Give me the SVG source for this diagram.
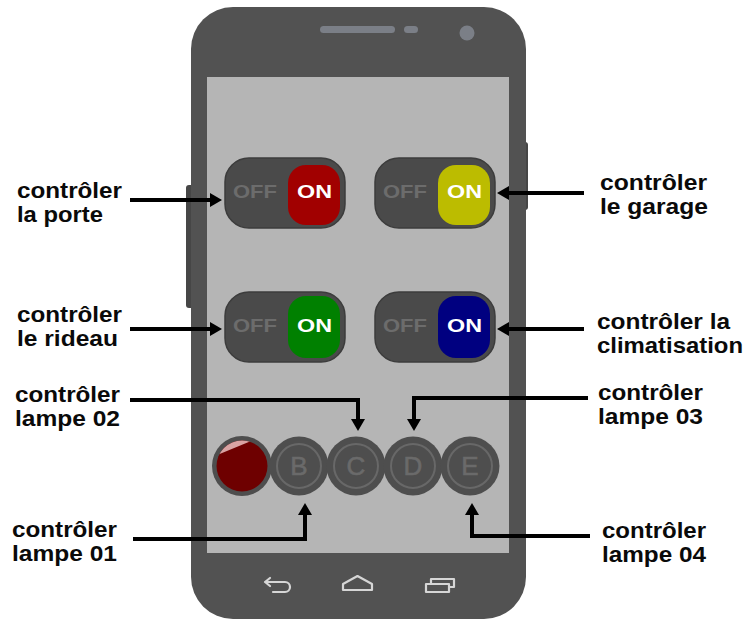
<svg xmlns="http://www.w3.org/2000/svg" width="745" height="619" viewBox="0 0 745 619">
  <style>
    .lbl { font-family: "Liberation Sans", Arial, sans-serif; font-weight: bold; font-size: 22px; fill: #0a0a0a; }
    .sw-body { fill: #4a4a4a; stroke: #3c3c3c; stroke-width: 1.5; }
    .sw-off { font-family: "Liberation Sans", Arial, sans-serif; font-weight: bold; font-size: 18px; fill: #6c6c6c; }
    .sw-on { font-family: "Liberation Sans", Arial, sans-serif; font-weight: bold; font-size: 19px; fill: #ffffff; }
    .lamp { fill: #4e4e4e; }
    .ring { fill: none; stroke: #686868; stroke-width: 2; }
    .letter { font-family: "Liberation Sans", Arial, sans-serif; font-size: 26px; fill: #6a6a6a; text-anchor: middle; stroke: #6a6a6a; stroke-width: 0.6; }
    .nav { fill: none; stroke: #d6d6d6; stroke-width: 2.2; stroke-linecap: round; stroke-linejoin: round; }
    .conn { fill: none; stroke: #000; stroke-width: 4; marker-end: url(#arrow); }
  </style>
  <defs>
    <marker id="arrow" viewBox="0 0 12 14" refX="1" refY="7" markerWidth="12" markerHeight="14" markerUnits="userSpaceOnUse" orient="auto">
      <path d="M0,0 L12,7 L0,14 Z" fill="#000"/>
    </marker>
    <clipPath id="redClip"><circle cx="242" cy="466" r="25.5"/></clipPath>
  </defs>

  <rect width="745" height="619" fill="#ffffff"/>

  <!-- handset -->
  <g id="phone">
    <rect x="186" y="185" width="8" height="123" rx="3" fill="#464646"/>
    <rect x="521" y="142" width="7" height="68" rx="3" fill="#464646"/>
    <rect x="191" y="7" width="335" height="612" rx="42" fill="#525252"/>
    <rect x="207" y="77" width="302" height="476" fill="#b5b5b5"/>
    <rect x="320" y="26" width="75" height="7" rx="3.5" fill="#7b7f87"/>
    <rect x="404" y="26" width="14" height="7" rx="3.5" fill="#7b7f87"/>
    <circle cx="467" cy="33" r="7.5" fill="#7b7f87"/>
    <!-- navigation keys -->
    <path class="nav" d="M285 582 H265 M270 578 L265 582 L270 586 M285 582 A5 5 0 0 1 285 592 H273"/>
    <path class="nav" d="M343 590 V584 L357.5 576 L372 584 V590 Z"/>
    <path class="nav" d="M426 584 H449 V592 H426 Z M431 584 V579 H454 V587 H449"/>
  </g>

  <!-- switches -->
  <g id="switch-porte">
    <rect class="sw-body" x="225" y="158" width="120" height="70" rx="24"/>
    <text class="sw-off" x="233" y="198" textLength="44" lengthAdjust="spacingAndGlyphs">OFF</text>
    <rect x="288" y="165" width="52" height="60" rx="18" fill="#a10000"/>
    <text class="sw-on" x="297" y="198" textLength="35" lengthAdjust="spacingAndGlyphs">ON</text>
  </g>
  <g id="switch-garage">
    <rect class="sw-body" x="375" y="158" width="120" height="70" rx="24"/>
    <text class="sw-off" x="383" y="198" textLength="44" lengthAdjust="spacingAndGlyphs">OFF</text>
    <rect x="438" y="165" width="52" height="60" rx="18" fill="#bcbc00"/>
    <text class="sw-on" x="447" y="198" textLength="35" lengthAdjust="spacingAndGlyphs">ON</text>
  </g>
  <g id="switch-rideau">
    <rect class="sw-body" x="225" y="292" width="120" height="70" rx="24"/>
    <text class="sw-off" x="233" y="332" textLength="44" lengthAdjust="spacingAndGlyphs">OFF</text>
    <rect x="288" y="296" width="52" height="62" rx="18" fill="#008000"/>
    <text class="sw-on" x="297" y="332" textLength="35" lengthAdjust="spacingAndGlyphs">ON</text>
  </g>
  <g id="switch-climatisation">
    <rect class="sw-body" x="375" y="292" width="120" height="70" rx="24"/>
    <text class="sw-off" x="383" y="332" textLength="44" lengthAdjust="spacingAndGlyphs">OFF</text>
    <rect x="438" y="296" width="52" height="62" rx="18" fill="#000080"/>
    <text class="sw-on" x="447" y="332" textLength="35" lengthAdjust="spacingAndGlyphs">ON</text>
  </g>

  <!-- lamp buttons -->
  <g id="lamp-a">
    <circle class="lamp" cx="242" cy="466" r="30" fill="#555"/>
    <circle cx="242" cy="466" r="25.5" fill="#6e0000"/>
    <path d="M210 458 L256 439 L256 430 L210 430 Z" fill="#d9a3a3" clip-path="url(#redClip)"/>
  </g>
  <g id="lamp-b">
    <circle class="lamp" cx="299" cy="466" r="29.5"/>
    <circle class="ring" cx="299" cy="466" r="22"/>
    <text class="letter" x="299" y="475">B</text>
  </g>
  <g id="lamp-c">
    <circle class="lamp" cx="356" cy="466" r="29.5"/>
    <circle class="ring" cx="356" cy="466" r="22"/>
    <text class="letter" x="356" y="475">C</text>
  </g>
  <g id="lamp-d">
    <circle class="lamp" cx="413" cy="466" r="29.5"/>
    <circle class="ring" cx="413" cy="466" r="22"/>
    <text class="letter" x="413" y="475">D</text>
  </g>
  <g id="lamp-e">
    <circle class="lamp" cx="470" cy="466" r="29.5"/>
    <circle class="ring" cx="470" cy="466" r="22"/>
    <text class="letter" x="470" y="475">E</text>
  </g>

  <!-- captions -->
  <g id="label-porte">
    <text class="lbl" x="17" y="198" textLength="105" lengthAdjust="spacingAndGlyphs">contrôler</text>
    <text class="lbl" x="17" y="222" textLength="86" lengthAdjust="spacingAndGlyphs">la porte</text>
  </g>
  <g id="label-rideau">
    <text class="lbl" x="17" y="322" textLength="105" lengthAdjust="spacingAndGlyphs">contrôler</text>
    <text class="lbl" x="17" y="346" textLength="101" lengthAdjust="spacingAndGlyphs">le rideau</text>
  </g>
  <g id="label-garage">
    <text class="lbl" x="600" y="190" textLength="107" lengthAdjust="spacingAndGlyphs">contrôler</text>
    <text class="lbl" x="600" y="214" textLength="108" lengthAdjust="spacingAndGlyphs">le garage</text>
  </g>
  <g id="label-climatisation">
    <text class="lbl" x="597" y="329" textLength="133" lengthAdjust="spacingAndGlyphs">contrôler la</text>
    <text class="lbl" x="597" y="353" textLength="146" lengthAdjust="spacingAndGlyphs">climatisation</text>
  </g>
  <g id="label-lampe02">
    <text class="lbl" x="15" y="402" textLength="105" lengthAdjust="spacingAndGlyphs">contrôler</text>
    <text class="lbl" x="15" y="426" textLength="105" lengthAdjust="spacingAndGlyphs">lampe 02</text>
  </g>
  <g id="label-lampe03">
    <text class="lbl" x="598" y="400" textLength="105" lengthAdjust="spacingAndGlyphs">contrôler</text>
    <text class="lbl" x="598" y="424" textLength="105" lengthAdjust="spacingAndGlyphs">lampe 03</text>
  </g>
  <g id="label-lampe01">
    <text class="lbl" x="12" y="537" textLength="105" lengthAdjust="spacingAndGlyphs">contrôler</text>
    <text class="lbl" x="12" y="561" textLength="105" lengthAdjust="spacingAndGlyphs">lampe 01</text>
  </g>
  <g id="label-lampe04">
    <text class="lbl" x="602" y="538" textLength="104" lengthAdjust="spacingAndGlyphs">contrôler</text>
    <text class="lbl" x="602" y="562" textLength="104" lengthAdjust="spacingAndGlyphs">lampe 04</text>
  </g>

  <!-- connectors -->
  <g id="connectors">
    <path class="conn" d="M130 200 H211"/>
    <path class="conn" d="M130 329 H211"/>
    <path class="conn" d="M584 193 H508"/>
    <path class="conn" d="M584 329 H508"/>
    <path class="conn" d="M130 400 H358 V420"/>
    <path class="conn" d="M588 398 H414 V420"/>
    <path class="conn" d="M133 539 H305 V514"/>
    <path class="conn" d="M590 536 H472 V514"/>
  </g>
</svg>
